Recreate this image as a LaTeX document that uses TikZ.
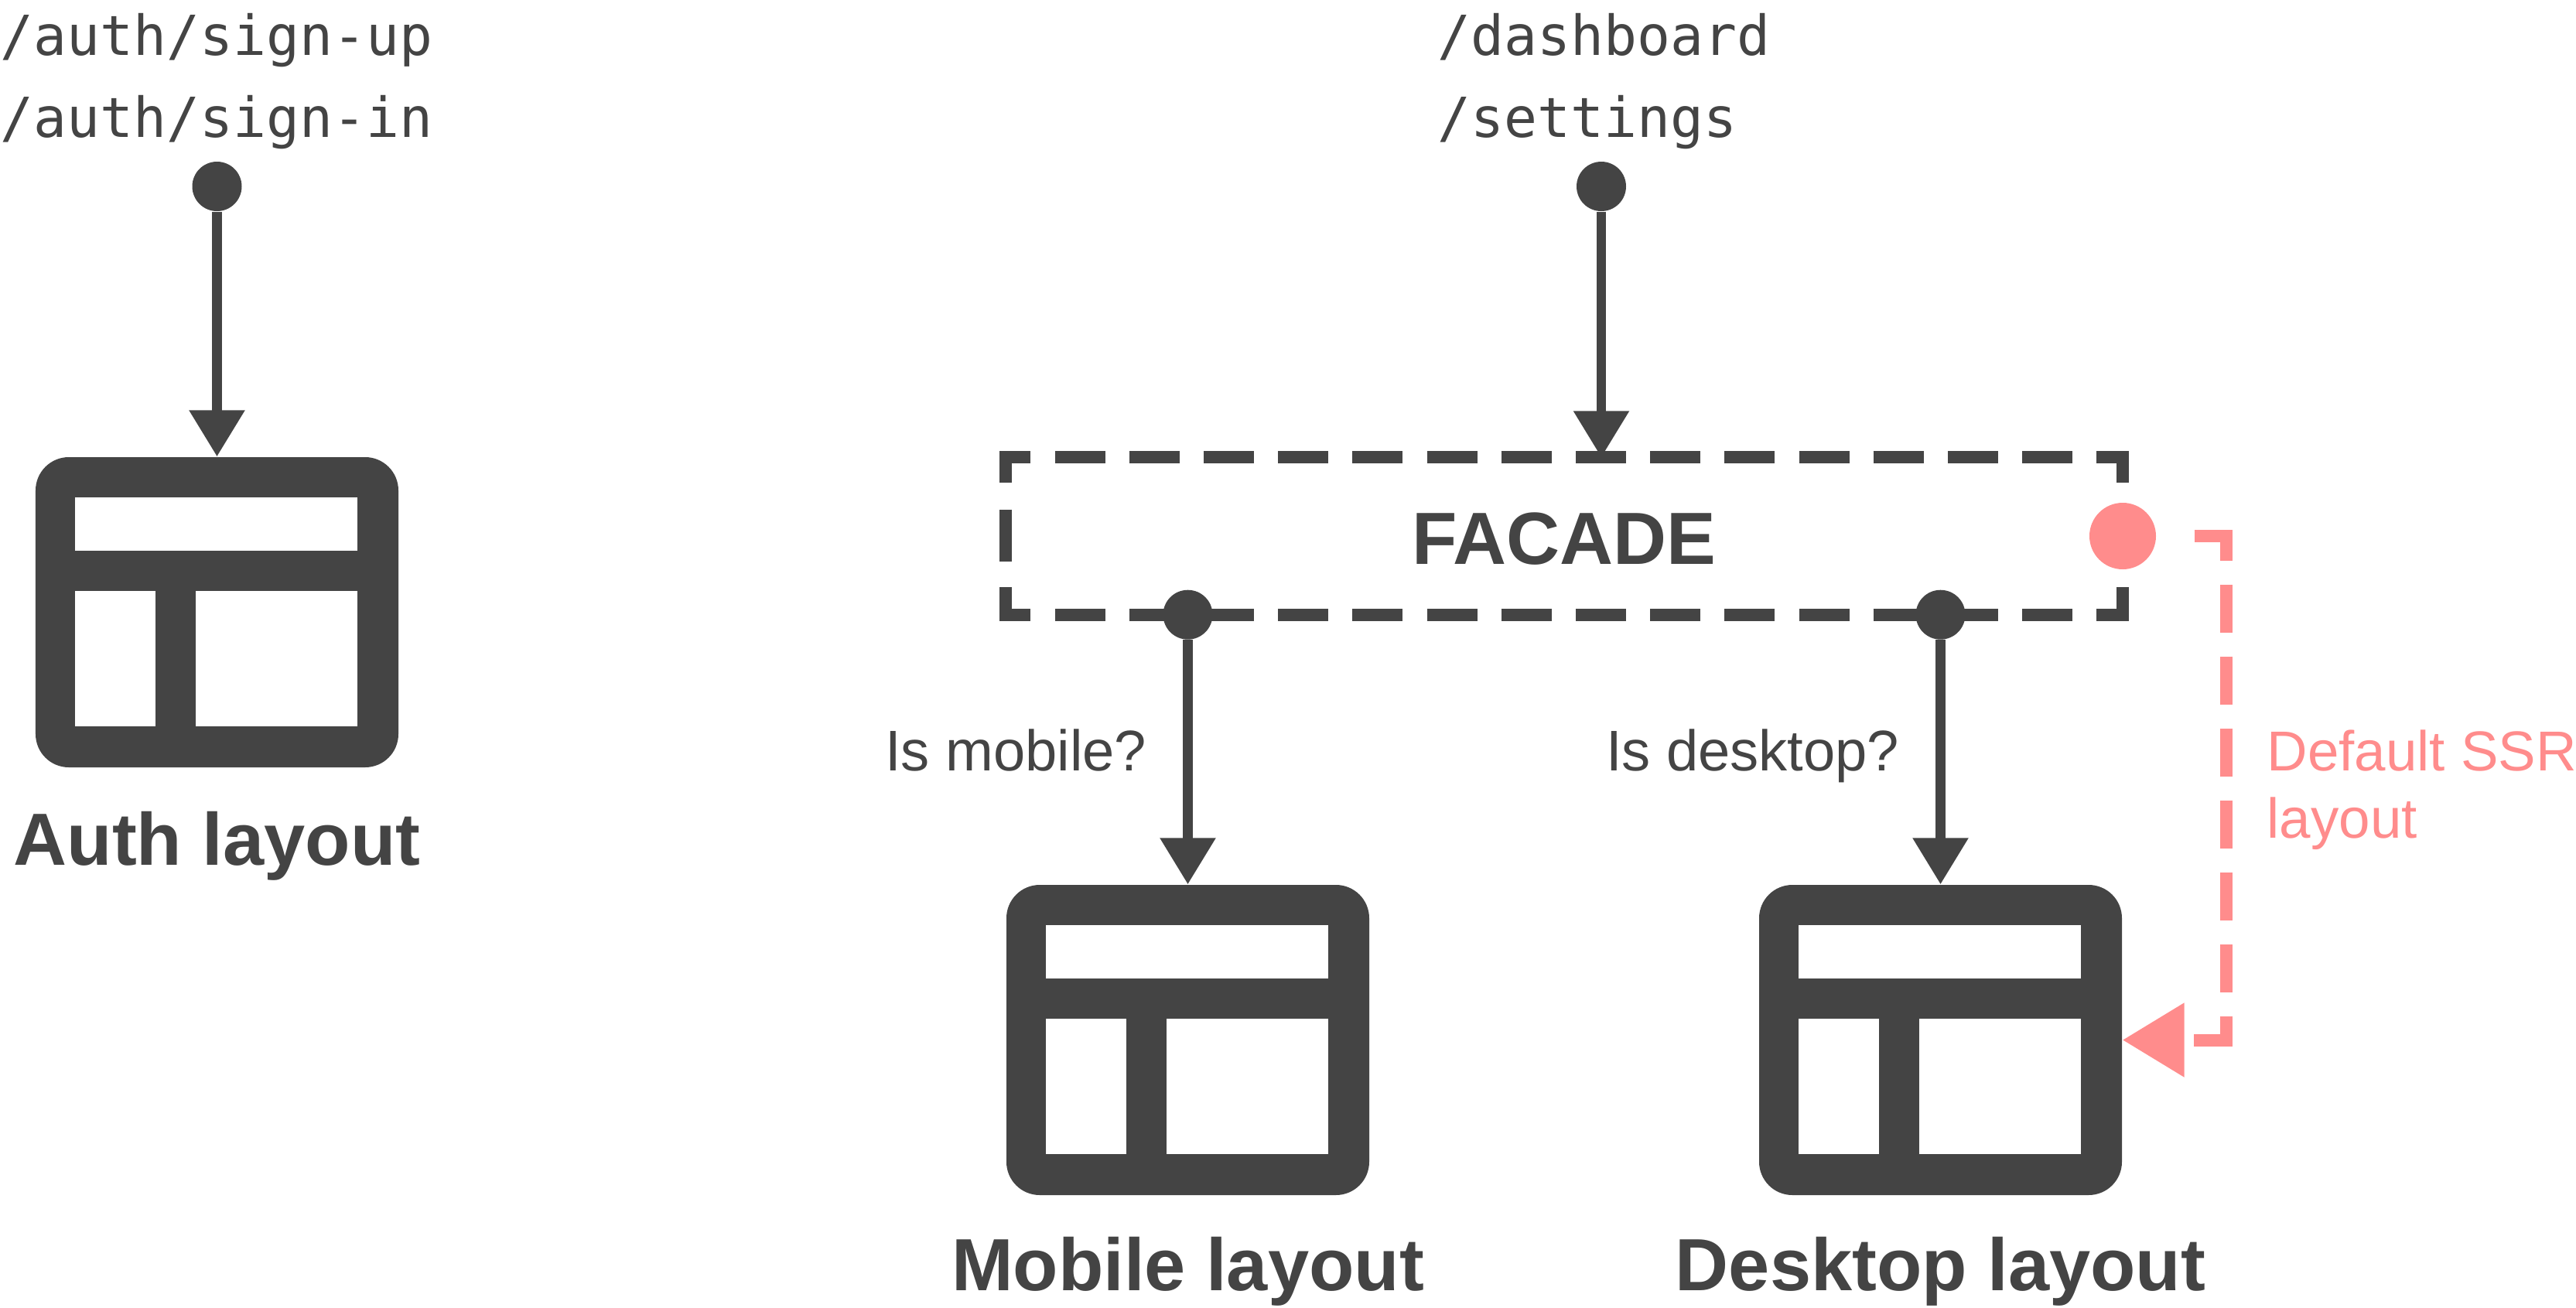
\documentclass[tikz,border=0pt]{standalone}
\usepackage{fontspec}
\setmainfont{Liberation Sans}
\newfontfamily\routefont{DejaVu Sans Mono}
\usetikzlibrary{arrows.meta,positioning}
\definecolor{ink}{HTML}{444444}
\definecolor{ssr}{HTML}{FF8C8C}
\tikzset{
	flowdot/.style={circle,fill=ink,inner sep=0,minimum size=6.4mm},
	flowline/.style={ink,line width=1.25mm,-{Triangle[length=6mm,width=6.9mm]}},
	iconbox/.style={fill=ink,rounded corners=4.3mm,inner sep=0,minimum width=4.69cm,minimum height=4.01cm},
	iconhole/.style={fill=white},
	edgeh/.style={ink,line width=1.6mm,dash pattern=on 6.5mm off 3.12mm,dash phase=2.5mm,shorten <=-0.8mm,shorten >=-0.8mm},
	edgev/.style={ink,line width=1.6mm,dash pattern=on 3.3mm off 3.46mm on 6.7mm off 3.34mm on 4mm off 1mm},
	ssrline/.style={ssr,line width=1.6mm,-{Triangle[length=8mm,width=9.2mm]},
		dash pattern=on 0mm off 4.9mm on 7.3mm off 3.1mm on 6.2mm off 3.1mm on 6.2mm off 3.1mm on 6.2mm off 3.1mm on 6.2mm off 3.1mm on 6.2mm off 3.1mm on 6.2mm off 3.1mm on 7.3mm off 20mm},
	route/.style={ink,inner sep=0,align=left,font=\routefont\fontsize{20.3}{30.3}\selectfont},
	biglabel/.style={ink,inner sep=0,font=\bfseries\fontsize{27.2}{32}\selectfont},
	smalllabel/.style={ink,inner sep=0,font=\fontsize{21.1}{25}\selectfont},
}
\newcommand{\layouticon}[2]{
	\node[iconbox] (#1) at (#2) {};
	\fill[iconhole] ([shift={(0.52,0.53)}]#1.north west) rectangle ([shift={(4.17,1.22)}]#1.north west);
	\fill[iconhole] ([shift={(0.52,1.74)}]#1.north west) rectangle ([shift={(1.56,3.49)}]#1.north west);
	\fill[iconhole] ([shift={(2.08,1.74)}]#1.north west) rectangle ([shift={(4.17,3.49)}]#1.north west);
}
\begin{document}
\begin{tikzpicture}[x=1cm,y=-1cm]
	\useasboundingbox (0,0) rectangle (33.3,16.91);

	% left column
	\node[route,anchor=base west] (authroutes) at (0,1.775) {/auth/sign-up\\/auth/sign-in};
	\node[flowdot] (authdot) at (2.805,2.41) {};
	\layouticon{auth}{2.805,7.915}
	\node[biglabel,below=5.6mm of auth] (authname) {Auth layout};
	\draw[flowline] (authdot) -- (auth.north);

	% facade
	\node[route,anchor=base west] (dashroutes) at (18.58,1.775) {/dashboard\\/settings};
	\node[flowdot] (dashdot) at (20.7,2.41) {};
	\node[inner sep=0,minimum width=14.42cm,minimum height=2.02cm,ink,text height=20.7pt,text depth=0pt,font=\bfseries\fontsize{27.2}{32}\selectfont] (facade) at (20.22,6.93) {FACADE};
	\draw[edgev] (facade.north west) -- (facade.south west);
	\draw[edgev] (facade.north east) -- (facade.south east);
	\draw[edgeh] (facade.north west) -- (facade.north east);
	\draw[edgeh] (facade.south west) -- (facade.south east);
	\coordinate (dashin) at (dashdot |- facade.north);
	\draw[flowline] (dashdot) -- (dashin);

	% the two layouts
	\layouticon{mobile}{15.355,13.445}
	\layouticon{desktop}{25.085,13.445}
	\node[biglabel,below=5.3mm of mobile] (mobilename) {Mobile layout};
	\node[biglabel,below=5.3mm of desktop] (desktopname) {Desktop layout};
	\node[flowdot] (mobiledot) at (mobile.north |- facade.south) {};
	\node[flowdot] (desktopdot) at (desktop.north |- facade.south) {};
	\draw[flowline] (mobiledot) -- (mobile.north);
	\draw[flowline] (desktopdot) -- (desktop.north);
	\node[smalllabel,anchor=base east] (ismobile) at (14.83,9.96) {Is mobile?};
	\node[smalllabel,anchor=base east] (isdesktop) at (24.56,9.96) {Is desktop?};

	% ssr fallback
	\node[circle,fill=ssr,inner sep=0,minimum size=8.6mm] (ssrdot) at (27.44,6.93) {};
	\coordinate (ssrtop) at (28.78,6.93);
	\coordinate (ssrbottom) at (28.78,13.445);
	\draw[ssrline] (ssrdot.east) -- (ssrtop) -- (ssrbottom) -- (desktop.east);
	\node[ssr,inner sep=0,anchor=base west,align=left,font=\fontsize{20.7}{24.9}\selectfont] (ssrtext) at (29.3,10.836) {Default SSR\\layout};
\end{tikzpicture}
\end{document}
